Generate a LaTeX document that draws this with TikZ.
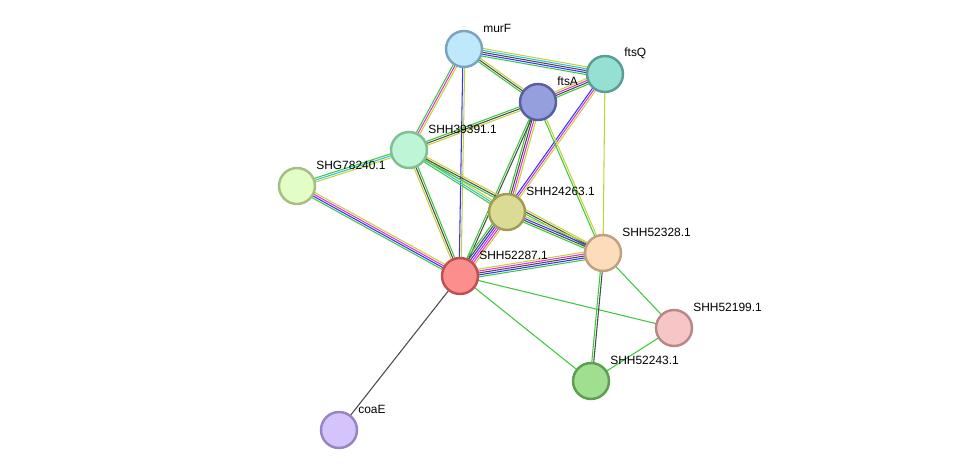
\documentclass[tikz,border=0pt]{standalone}
\usepackage{fontspec}
\setmainfont{Liberation Sans}
\usetikzlibrary{calc,backgrounds}

\definecolor{sgreen}{HTML}{3DC83D}
\definecolor{sblue}{HTML}{3333FF}
\definecolor{smag}{HTML}{DD33DD}
\definecolor{sblack}{HTML}{4A4A4A}
\definecolor{scyan}{HTML}{33BBDD}
\definecolor{syel}{HTML}{C4D236}

\tikzset{
  prot/.style={circle, minimum size=0.72cm, inner sep=0pt, line width=1.4pt},
  lbl/.style={anchor=west, inner sep=0pt, font=\fontsize{6.8}{8}\selectfont},
  wire/.style={line width=0.6pt}
}

% parallel coloured lines between two nodes
\newcommand{\link}[3]{%
  \foreach \c [count=\i] in {#3} {\xdef\nlines{\i}}%
  \foreach \c [count=\i] in {#3} {%
    \pgfmathsetmacro{\off}{(\i-(\nlines+1)/2)*1.1}%
    \draw[wire, \c] ($(#1)!\off pt!90:(#2)$) -- ($(#2)!\off pt!-90:(#1)$);
  }%
}

\begin{document}
\begin{tikzpicture}[x=0.02cm, y=-0.02cm]
  \useasboundingbox (0,0) rectangle (976,476);

  \node[prot, fill={rgb,255:red,192;green,232;blue,251}, draw={rgb,255:red,122;green,163;blue,191}] (murF) at (464,49) {};
  \node[prot, fill={rgb,255:red,150;green,223;blue,211}, draw={rgb,255:red,90;green,158;blue,147}] (ftsQ) at (605,74) {};
  \node[prot, fill={rgb,255:red,149;green,159;blue,221}, draw={rgb,255:red,86;green,96;blue,159}] (ftsA) at (538,102) {};
  \node[prot, fill={rgb,255:red,189;green,245;blue,214}, draw={rgb,255:red,126;green,191;blue,148}] (h39391) at (409,150) {};
  \node[prot, fill={rgb,255:red,226;green,253;blue,198}, draw={rgb,255:red,164;green,191;blue,130}] (g78240) at (297,186) {};
  \node[prot, fill={rgb,255:red,220;green,219;blue,150}, draw={rgb,255:red,158;green,156;blue,85}] (h24263) at (507,212) {};
  \node[prot, fill={rgb,255:red,253;green,220;blue,188}, draw={rgb,255:red,192;green,160;blue,126}] (h52328) at (603,253) {};
  \node[prot, fill={rgb,255:red,253;green,142;blue,142}, draw={rgb,255:red,192;green,80;blue,80}] (h52287) at (460,276) {};
  \node[prot, fill={rgb,255:red,246;green,198;blue,198}, draw={rgb,255:red,184;green,136;blue,136}] (h52199) at (674,328) {};
  \node[prot, fill={rgb,255:red,160;green,223;blue,144}, draw={rgb,255:red,94;green,158;blue,80}] (h52243) at (591,381) {};
  \node[prot, fill={rgb,255:red,213;green,196;blue,251}, draw={rgb,255:red,151;green,132;blue,196}] (coaE) at (339,430) {};

  \node[lbl] at ($(murF)+(19,-21)$) {murF};
  \node[lbl] at ($(ftsQ)+(19,-21)$) {ftsQ};
  \node[lbl] at ($(ftsA)+(19,-21)$) {ftsA};
  \node[lbl] at ($(h39391)+(19,-21)$) {SHH39391.1};
  \node[lbl] at ($(g78240)+(19,-21)$) {SHG78240.1};
  \node[lbl] at ($(h24263)+(19,-21)$) {SHH24263.1};
  \node[lbl] at ($(h52328)+(19,-21)$) {SHH52328.1};
  \node[lbl] at ($(h52287)+(19,-21)$) {SHH52287.1};
  \node[lbl] at ($(h52199)+(19,-21)$) {SHH52199.1};
  \node[lbl] at ($(h52243)+(19,-21)$) {SHH52243.1};
  \node[lbl] at ($(coaE)+(19,-21)$) {coaE};

  \begin{scope}[on background layer]
    \link{murF}{ftsQ}{sgreen,sblue,sblack,scyan,syel}
    \link{murF}{ftsA}{sgreen,sblack,syel}
    \link{murF}{h39391}{sgreen,smag,syel}
    \link{murF}{h52287}{sblue,syel}
    \link{ftsQ}{ftsA}{syel,smag,sblack,sgreen}
    \link{ftsQ}{h24263}{sblue,smag,syel}
    \link{ftsQ}{h52328}{syel}
    \link{ftsA}{h39391}{sgreen,sblack,syel}
    \link{ftsA}{h24263}{sgreen,sblack,smag,syel}
    \link{ftsA}{h52287}{sgreen,sblack}
    \link{ftsA}{h52328}{sgreen,syel}
    \link{h39391}{g78240}{sgreen,scyan,syel}
    \link{h39391}{h52287}{syel,sblack,sgreen}
    \link{h39391}{h24263}{sgreen,scyan,syel}
    \link{h39391}{h52328}{sgreen,sblack,syel}
    \link{g78240}{h52287}{sgreen,sblue,smag,syel}
    \link{h24263}{h52287}{sgreen,sblack,sblue,smag,smag,syel}
    \link{h24263}{h52328}{sgreen,sblack,sblue,syel}
    \link{h52287}{h52328}{sgreen,sblue,sblack,smag,syel}
    \link{h52287}{h52199}{sgreen}
    \link{h52287}{h52243}{sgreen}
    \link{h52287}{coaE}{sblack}
    \link{h52328}{h52243}{sgreen,sblack}
    \link{h52328}{h52199}{sgreen}
    \link{h52199}{h52243}{sgreen}
  \end{scope}
\end{tikzpicture}
\end{document}
